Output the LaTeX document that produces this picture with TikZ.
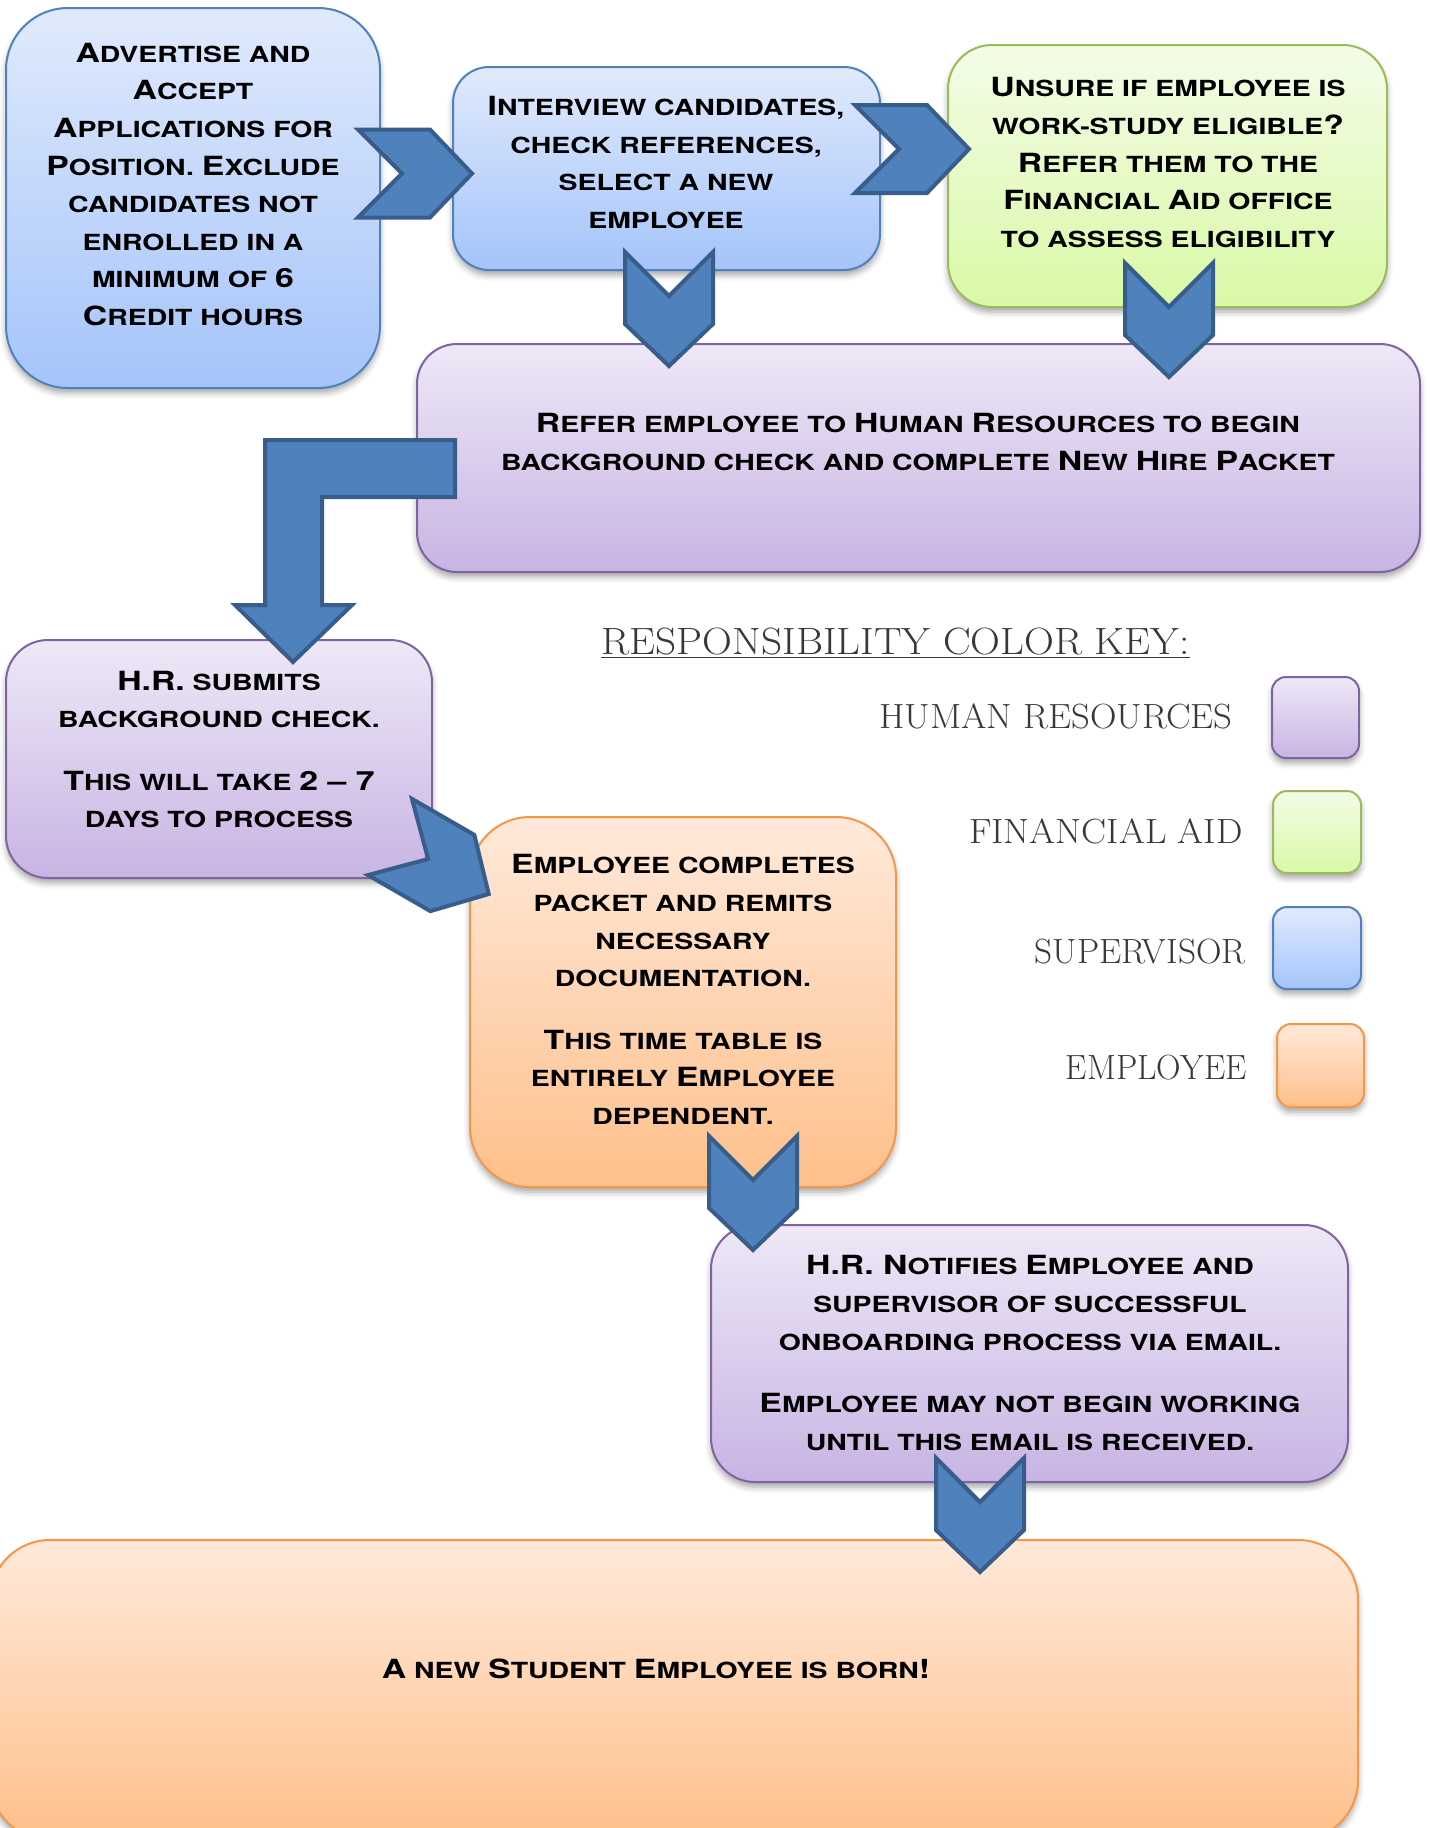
\documentclass[tikz,border=0pt]{standalone}
\usepackage{fontspec}
\usetikzlibrary{shadows.blur}
\newfontfamily\cpfont[FakeStretch=1.28,Ligatures=TeX]{TeX Gyre Heros}
\newcommand\C[1]{{\fontsize{13.2}{18.8}\selectfont #1}}
\definecolor{chevfill}{HTML}{4F81BD}
\definecolor{chevline}{HTML}{385D8A}
\definecolor{blueline}{HTML}{4F81BD}
\definecolor{bluetop}{HTML}{E0EAFC}
\definecolor{bluebot}{HTML}{A5C4FA}
\definecolor{purpline}{HTML}{8064A2}
\definecolor{purptop}{HTML}{EEE8F7}
\definecolor{purpbot}{HTML}{C8B4E3}
\definecolor{greenline}{HTML}{9BBB59}
\definecolor{greentop}{HTML}{F3FCE8}
\definecolor{greenbot}{HTML}{D9F9A6}
\definecolor{orangeline}{HTML}{F79646}
\definecolor{orangetop}{HTML}{FFE9DA}
\definecolor{orangebot}{HTML}{FEC08B}
\tikzset{
  boxbase/.style={rectangle, draw, line width=1pt, inner sep=0pt,
    blur shadow={shadow xshift=0pt, shadow yshift=-2.5pt, shadow blur radius=3pt, shadow opacity=35}},
  bluebox/.style={boxbase, draw=blueline, top color=bluetop, bottom color=bluebot},
  purpbox/.style={boxbase, draw=purpline, top color=purptop, bottom color=purpbot},
  greenbox/.style={boxbase, draw=greenline, top color=greentop, bottom color=greenbot},
  orangebox/.style={boxbase, draw=orangeline, top color=orangetop, bottom color=orangebot},
  txt/.style={font=\cpfont\bfseries\fontsize{11.1}{18.8}\selectfont, align=center, inner sep=0pt},
  keytxt/.style={font=\rmfamily\fontsize{17.5}{20}\selectfont, text=black!78, inner sep=0pt, anchor=base east},
  chevstyle/.style={fill=chevfill, draw=chevline, line width=2pt, line join=miter},
  chev/.pic={\path[chevstyle] (0,-44) -- (72,-44) -- (114,0) -- (72,44) -- (0,44) -- (44,0) -- cycle;}
}
\begin{document}
\begin{tikzpicture}[x=0.5pt, y=-0.5pt]
\useasboundingbox (0,0) rectangle (1430,1828);
\clip (0,0) rectangle (1430,1828);

% boxes
\node[bluebox, rounded corners=31pt, minimum width=187pt, minimum height=190pt] (b1) at (193,198) {};
\node[bluebox, rounded corners=18pt, minimum width=213.5pt, minimum height=101.5pt] (b2) at (666.5,168.5) {};
\node[greenbox, rounded corners=22pt, minimum width=219.5pt, minimum height=131pt] (b3) at (1167.5,176) {};
\node[purpbox, rounded corners=20pt, minimum width=501.5pt, minimum height=114pt] (b4) at (918.5,458) {};
\node[purpbox, rounded corners=21pt, minimum width=213pt, minimum height=119pt] (b5) at (219,759) {};
\node[orangebox, rounded corners=30pt, minimum width=213pt, minimum height=185pt] (b6) at (683,1002) {};
\node[purpbox, rounded corners=22pt, minimum width=318.5pt, minimum height=128.5pt] (b7) at (1029.5,1353.5) {};
\node[orangebox, rounded corners=30pt, minimum width=684pt, minimum height=150pt] (b8) at (674,1690) {};

% texts
\node[txt] (t1) at (193,184.5) {\C{A}DVERTISE AND\\\C{A}CCEPT\\\C{A}PPLICATIONS FOR\\\C{P}OSITION. \C{E}XCLUDE\\CANDIDATES NOT\\ENROLLED IN A\\MINIMUM OF \C{6}\\\C{C}REDIT HOURS};
\node[txt] (t2) at (666,162.5) {\C{I}NTERVIEW CANDIDATES,\\CHECK REFERENCES,\\SELECT A NEW\\EMPLOYEE};
\node[txt] (t3) at (1168,162.5) {\C{U}NSURE IF EMPLOYEE IS\\WORK-STUDY ELIGIBLE\C{?}\\\C{R}EFER THEM TO THE\\\C{F}INANCIAL \C{A}ID OFFICE\\TO ASSESS ELIGIBILITY};
\node[txt] (t4) at (918,442) {\C{R}EFER EMPLOYEE TO \C{H}UMAN \C{R}ESOURCES TO BEGIN\\BACKGROUND CHECK AND COMPLETE \C{N}EW \C{H}IRE \C{P}ACKET};
\node[txt] (t5) at (219,749.5) {\C{H.R.} SUBMITS\\BACKGROUND CHECK.\\[12.5pt]\C{T}HIS WILL TAKE \C{2 \textendash{} 7}\\DAYS TO PROCESS};
\node[txt] (t6) at (683,989.5) {\C{E}MPLOYEE COMPLETES\\PACKET AND REMITS\\NECESSARY\\DOCUMENTATION.\\[12.5pt]\C{T}HIS TIME TABLE IS\\ENTIRELY \C{E}MPLOYEE\\DEPENDENT.};
\node[txt] (t7) at (1030,1353) {\C{H.R. N}OTIFIES \C{E}MPLOYEE AND\\SUPERVISOR OF SUCCESSFUL\\ONBOARDING PROCESS VIA EMAIL.\\[12.5pt]\C{E}MPLOYEE MAY NOT BEGIN WORKING\\UNTIL THIS EMAIL IS RECEIVED.};
\node[txt] (t8) at (656,1669) {\C{A} NEW \C{S}TUDENT \C{E}MPLOYEE IS BORN\C{!}};

% connectors (chevrons)
\pic (c1) at (358,173.5) {chev};
\pic (c2) at (855,149) {chev};
\pic[rotate=-90] (c3) at (669,252) {chev};
\pic[rotate=-90] (c4) at (1169,263) {chev};
\path[chevstyle] (455,440) -- (265,440) -- (265,605) -- (235,605) -- (293,662) -- (352,605) -- (322,605) -- (322,497) -- (455,497) -- cycle;
\pic[rotate=-30] (c5) at (390,837) {chev};
\pic[rotate=-90] (c6) at (753,1136) {chev};
\pic[rotate=-90] (c7) at (980,1458) {chev};

% key
\node[font=\rmfamily\fontsize{19}{22}\selectfont, text=black!78, inner sep=0pt, anchor=base west] (keytitle) at (601,654) {\underline{\scalebox{1.09}[1]{RESPONSIBILITY COLOR KEY:}}};
\node[keytxt] (khr) at (1233,728) {\scalebox{1.05}[1]{HUMAN RESOURCES}};
\node[keytxt] (kfa) at (1243,843) {\scalebox{1.07}[1]{FINANCIAL AID}};
\node[keytxt] (ksup) at (1246,963) {\scalebox{1.01}[1]{SUPERVISOR}};
\node[keytxt] (kemp) at (1247,1079) {\scalebox{0.97}[1]{EMPLOYEE}};
\node[purpbox, rounded corners=7pt, minimum width=43.5pt, minimum height=40.5pt] (shr) at (1315.5,717.5) {};
\node[greenbox, rounded corners=7pt, minimum width=44pt, minimum height=41pt] (sfa) at (1317,832) {};
\node[bluebox, rounded corners=7pt, minimum width=44pt, minimum height=41pt] (ssup) at (1317,948) {};
\node[orangebox, rounded corners=7pt, minimum width=43.5pt, minimum height=41.5pt] (semp) at (1320.5,1065.5) {};
\end{tikzpicture}
\end{document}
